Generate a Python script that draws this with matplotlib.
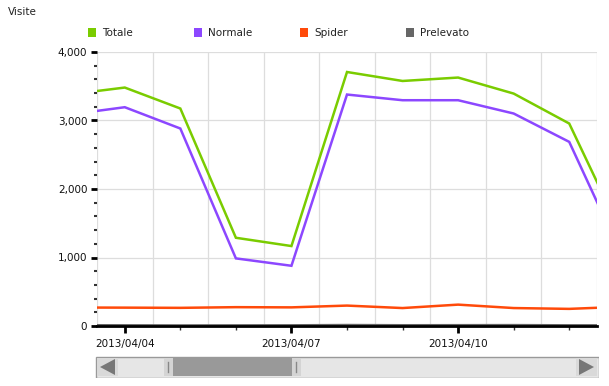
import numpy as np
import pandas as pd
import matplotlib.pyplot as plt
import matplotlib.dates as mdates
from matplotlib.patches import Rectangle, Polygon
from matplotlib.ticker import FuncFormatter, MultipleLocator

# Daily visits
dates = pd.date_range("2013-04-03", "2013-04-13", freq="D")
totale = [3380, 3481, 3175, 1288, 1167, 3708, 3577, 3627, 3393, 2956, 1250]
normale = [3086, 3194, 2883, 987, 879, 3379, 3296, 3296, 3102, 2688, 935]
spider = [270, 268, 265, 275, 272, 298, 262, 312, 262, 250, 282]
prelevato = [12, 10, 8, 9, 10, 14, 11, 12, 13, 10, 9]

series_names = ["Totale", "Normale", "Spider", "Prelevato"]
series_colors = ["#7acc00", "#8c47ff", "#ff4a0a", "#666666"]
series_values = [totale, normale, spider, prelevato]

W, H = 609, 386
fig = plt.figure(figsize=(W / 100, H / 100), dpi=100)
ax = fig.add_axes([97 / W, (H - 326) / H, 500 / W, 274 / H])

# Plot order: grey at the bottom, green on top
for name, color, vals in reversed(list(zip(series_names, series_colors, series_values))):
    ax.plot(dates, vals, color=color, lw=1.8, solid_joinstyle="miter", label=name)

ax.set_xlim(pd.Timestamp("2013-04-03 12:00"), pd.Timestamp("2013-04-12 12:00"))
ax.set_ylim(0, 4000)

# y axis
ax.yaxis.set_major_locator(MultipleLocator(1000))
ax.yaxis.set_minor_locator(MultipleLocator(200))
ax.yaxis.set_major_formatter(FuncFormatter(lambda v, p: f"{int(v):,}"))
ax.tick_params(axis="y", which="major", length=4, width=2, color="black",
               labelsize=7.5, pad=3, labelcolor="#111111")
ax.tick_params(axis="y", which="minor", length=2, width=1.5, color="#333333")

# x axis: ticks at midnight, labels every 3 days, grid at noon
ax.xaxis.set_major_locator(mdates.DayLocator(bymonthday=[4, 7, 10]))
ax.xaxis.set_minor_locator(mdates.DayLocator())
ax.xaxis.set_major_formatter(mdates.DateFormatter("%Y/%m/%d"))
ax.tick_params(axis="x", which="major", length=5, width=2, color="black",
               labelsize=7.5, pad=4, labelcolor="#111111")
ax.tick_params(axis="x", which="minor", length=3, width=1, color="#333333")

noon = pd.date_range("2013-04-03 12:00", "2013-04-12 12:00", freq="D")
for d in noon:
    ax.axvline(d, color="#dddddd", lw=0.9, zorder=0)
for y in range(1000, 4001, 1000):
    ax.axhline(y, color="#dddddd", lw=0.9, zorder=0)

for s in ["left", "right", "top"]:
    ax.spines[s].set_visible(False)
ax.spines["bottom"].set_linewidth(2)
ax.spines["bottom"].set_color("black")
ax.spines["bottom"].set_zorder(5)

# title label
fig.text(8 / W, 1 - 12 / H, "Visite", fontsize=7.5, color="#222222", va="center", ha="left")

# legend (manual, like the original)
for i, (name, color) in enumerate(zip(series_names, series_colors)):
    x0 = 88 + i * 106
    fig.add_artist(Rectangle((x0 / W, 1 - 37 / H), 8 / W, 9 / H,
                             transform=fig.transFigure, color=color, lw=0))
    fig.text((x0 + 14) / W, 1 - 32.5 / H, name, fontsize=7.5, color="#222222",
             va="center", ha="left")

# scrollbar under the chart
sb = fig.add_axes([95 / W, (H - 378) / H, 504 / W, 22 / H])
sb.set_xlim(95, 599)
sb.set_ylim(22, 0)
sb.axis("off")
sb.add_patch(Rectangle((95.5, 0.5), 503, 21, facecolor="#e6e6e6", edgecolor="#999999", lw=1))
sb.add_patch(Rectangle((97, 2), 21, 18, facecolor="#d9d9d9", edgecolor="none"))
sb.add_patch(Polygon([[100, 11], [115, 3], [115, 19]], closed=True, facecolor="#777777", edgecolor="none"))
sb.add_patch(Rectangle((576, 2), 21, 18, facecolor="#d9d9d9", edgecolor="none"))
sb.add_patch(Polygon([[594, 11], [579, 3], [579, 19]], closed=True, facecolor="#777777", edgecolor="none"))
sb.add_patch(Rectangle((164, 2), 9, 18, facecolor="#d4d4d4", edgecolor="none"))
sb.add_patch(Rectangle((173, 2), 119, 18, facecolor="#999999", edgecolor="none"))
sb.add_patch(Rectangle((292, 2), 9, 18, facecolor="#d4d4d4", edgecolor="none"))
sb.plot([168, 168], [6, 16], color="#888888", lw=1)
sb.plot([296, 296], [6, 16], color="#888888", lw=1)

fig.savefig("out.png", dpi=100)
